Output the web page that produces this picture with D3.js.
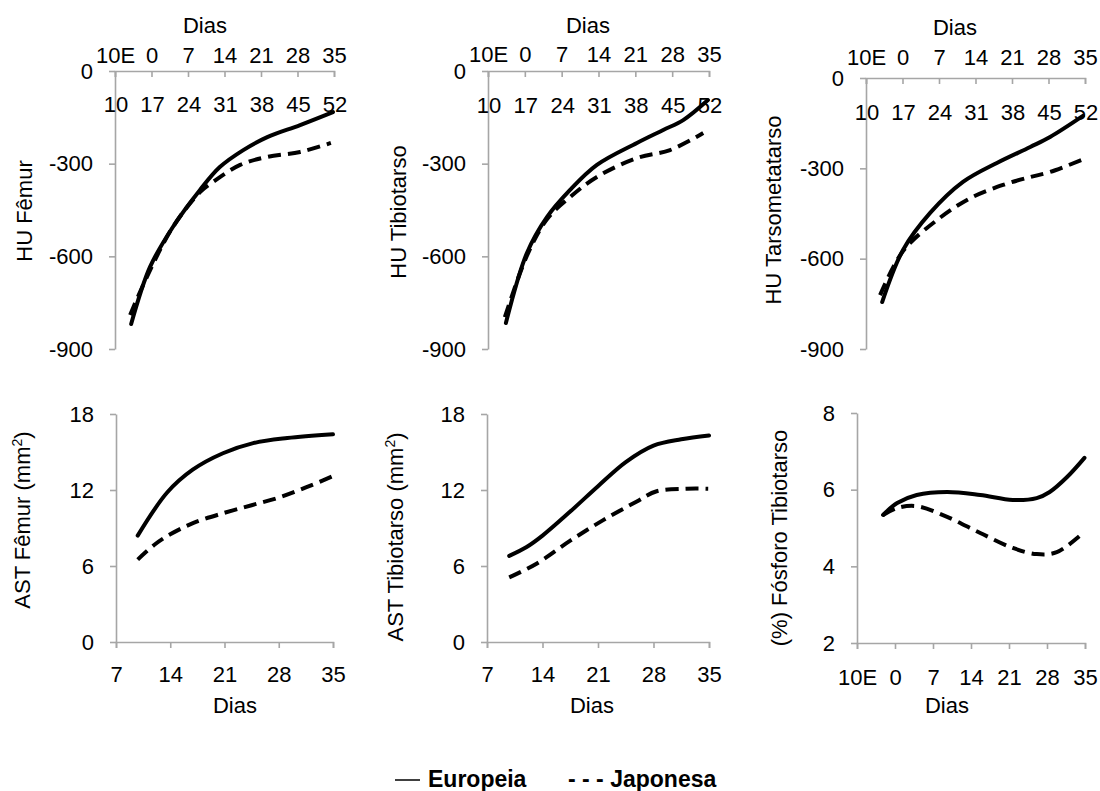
<!DOCTYPE html>
<html><head><meta charset="utf-8">
<script src="https://cdn.jsdelivr.net/npm/d3@7"></script>
<style>
body{margin:0;background:#fff}
text{font-family:"Liberation Sans",Arial,sans-serif;fill:#000}
</style>
</head><body>
<svg id="chart" width="1100" height="791"></svg>
<script>
// ---------- data ----------
const seriesNames = ["Europeia", "Japonesa"];
const hatchTicks = [-7, 0, 7, 14, 21, 28, 35];
const hatchLabels = ["10E", "0", "7", "14", "21", "28", "35"];
const ageLabels = ["10", "17", "24", "31", "38", "45", "52"];
const dayTicks = [7, 14, 21, 28, 35];
const dayLabels = ["7", "14", "21", "28", "35"];
const huTicks = [0, -300, -600, -900];
const astTicks = [0, 6, 12, 18];
const phosTicks = [2, 4, 6, 8];
const xTitle = "Dias";

const huFemurEU = [[-3.9,-819],[-0.3,-635],[4.1,-505],[9.3,-385],[13.1,-311],[17.6,-256],[22.2,-214],[28.5,-175],[34.8,-133]];
const huFemurJP = [[-4.1,-790],[-0.9,-667],[4.1,-505],[9.3,-392],[11.8,-359],[17,-304],[22.2,-278],[28.5,-262],[34.4,-233]];
const huTibioEU = [[-3.6,-816],[0.4,-589],[4.2,-473],[8.6,-385],[13.7,-304],[21.3,-233],[26.3,-191],[30.1,-159],[34.8,-94]];
const huTibioJP = [[-3.8,-797],[0.4,-598],[4.2,-480],[8.6,-408],[13.7,-343],[21.3,-282],[27.6,-256],[33.9,-201]];
const huTarsoEU = [[-3.9,-744],[0.1,-571],[5.3,-448],[11.6,-345],[18.1,-282],[24.5,-229],[28.3,-196],[34.6,-126]];
const huTarsoJP = [[-4.3,-721],[0.1,-575],[6.6,-472],[13,-399],[19.3,-355],[24.5,-329],[28.3,-312],[34.4,-272]];
const astFemurEU = [[9.8,8.4],[13.6,11.8],[16.9,13.6],[20.8,14.9],[24.7,15.7],[29.1,16.1],[35,16.4]];
const astFemurJP = [[9.8,6.5],[12,7.7],[14,8.5],[17,9.4],[21,10.2],[24.5,10.8],[28,11.4],[31.5,12.2],[35,13.1]];
const astTibioEU = [[9.8,6.8],[12,7.5],[14,8.4],[17.5,10.3],[21,12.3],[24.5,14.2],[28,15.5],[31.5,16.0],[35,16.3]];
const astTibioJP = [[9.8,5.1],[13.3,6.2],[17.5,8.0],[21.6,9.6],[25.9,11.1],[28.4,11.9],[32.2,12.1],[34.9,12.1]];
const phosEU = [[-2.2,5.34],[0.4,5.65],[4,5.86],[9.6,5.94],[15.7,5.86],[21.7,5.73],[26.1,5.78],[28.5,5.94],[31.7,6.33],[34.9,6.83]];
const phosJP = [[-2.2,5.34],[0.4,5.52],[4,5.57],[9.6,5.29],[15.7,4.87],[21.7,4.48],[26.1,4.32],[29.8,4.37],[34.9,4.9]];

// ---------- panel definitions ----------
const panels = [
  {yLabel:"HU Fêmur", sup:"", top:true, xDom:[-7,35], xTicks:hatchTicks, xLabels:hatchLabels, row2:ageLabels, yDom:[-900,0], yTicks:huTicks, eu:huFemurEU, jp:huFemurJP},
  {yLabel:"HU Tibiotarso", sup:"", top:true, xDom:[-7,35], xTicks:hatchTicks, xLabels:hatchLabels, row2:ageLabels, yDom:[-900,0], yTicks:huTicks, eu:huTibioEU, jp:huTibioJP},
  {yLabel:"HU Tarsometatarso", sup:"", top:true, xDom:[-7,35], xTicks:hatchTicks, xLabels:hatchLabels, row2:ageLabels, yDom:[-900,0], yTicks:huTicks, eu:huTarsoEU, jp:huTarsoJP},
  {yLabel:"AST Fêmur (mm", sup:"2", top:false, xDom:[7,35], xTicks:dayTicks, xLabels:dayLabels, row2:null, yDom:[0,18], yTicks:astTicks, eu:astFemurEU, jp:astFemurJP},
  {yLabel:"AST Tibiotarso (mm", sup:"2", top:false, xDom:[7,35], xTicks:dayTicks, xLabels:dayLabels, row2:null, yDom:[0,18], yTicks:astTicks, eu:astTibioEU, jp:astTibioJP},
  {yLabel:"(%) Fósforo Tibiotarso", sup:"", top:false, xDom:[-7,35], xTicks:hatchTicks, xLabels:hatchLabels, row2:null, yDom:[2,8], yTicks:phosTicks, eu:phosEU, jp:phosJP}
];

// ---------- layout (pixels) ----------
const layout = [
  {x0:115, x1:334, yTop:71, yBot:349, row1:63, row2:112, tX:205, tY:33, ylx:32, yly:211},
  {x0:488, x1:709, yTop:71, yBot:349, row1:62, row2:113, tX:588, tY:33, ylx:406, yly:212},
  {x0:866, x1:1085, yTop:78, yBot:349, row1:65, row2:120, tX:955, tY:35, ylx:781, yly:210},
  {x0:116, x1:333, yTop:414, yBot:642, row1:682, tX:235, tY:713, ylx:30, yly:520},
  {x0:487, x1:709, yTop:414, yBot:642, row1:682, tX:592, tY:713, ylx:403, yly:537},
  {x0:857, x1:1085, yTop:413, yBot:643, row1:685, tX:947, tY:713, ylx:787, yly:538}
];

const FS = 22;
const axisColor = "#a6a6a6";
const svg = d3.select("#chart");

panels.forEach((p, i) => {
  const L = layout[i];
  const x = d3.scaleLinear().domain(p.xDom).range([L.x0, L.x1]);
  const y = d3.scaleLinear().domain(p.yDom).range([L.yBot, L.yTop]);
  const g = svg.append("g");

  // y axis
  const ya = d3.axisLeft(y).tickValues(p.yTicks).tickSize(6).tickSizeOuter(0).tickPadding(16).tickFormat(d => String(d));
  const yg = g.append("g").attr("transform", `translate(${L.x0},0)`).call(ya);
  yg.selectAll("text").style("font-size", FS + "px").attr("fill", "#000");

  // x axis
  const xAxisY = p.top ? L.yTop : L.yBot;
  const xa = (p.top ? d3.axisTop(x) : d3.axisBottom(x))
    .tickValues(p.xTicks).tickSizeOuter(0)
    .tickFormat((d, k) => p.xLabels[k]);
  xa.tickSize(p.top ? -6 : 6);
  const xg = g.append("g").attr("transform", `translate(0,${xAxisY})`).call(xa);
  xg.selectAll("text").style("font-size", FS + "px").attr("fill", "#000")
    .attr("y", L.row1 - xAxisY).attr("dy", "0");

  [yg, xg].forEach(a => {
    a.select(".domain").attr("stroke", axisColor).attr("stroke-width", 1.6);
    a.selectAll(".tick line").attr("stroke", axisColor).attr("stroke-width", 1.6);
  });

  // second row of labels (age)
  if (p.row2) {
    g.selectAll(".row2").data(p.xTicks).join("text")
      .attr("x", (d) => x(d) + 1).attr("y", L.row2)
      .attr("text-anchor", "middle").style("font-size", FS + "px")
      .text((d, k) => p.row2[k]);
  }

  // x title
  g.append("text").attr("x", L.tX).attr("y", L.tY).attr("text-anchor", "middle")
    .style("font-size", FS + "px").text(xTitle);

  // y title
  const yt = g.append("text").attr("transform", `translate(${L.ylx},${L.yly}) rotate(-90)`)
    .attr("text-anchor", "middle").style("font-size", FS + "px");
  yt.append("tspan").text(p.yLabel);
  if (p.sup) {
    yt.append("tspan").attr("baseline-shift", "super").style("font-size", "14px").text(p.sup);
    yt.append("tspan").text(")");
  }

  // lines
  const line = d3.line().x(d => x(d[0])).y(d => y(d[1])).curve(d3.curveCatmullRom.alpha(0.5));
  g.append("path").datum(p.jp).attr("d", line).attr("fill", "none")
    .attr("stroke", "#000").attr("stroke-width", 4).attr("stroke-dasharray", "13,7");
  g.append("path").datum(p.eu).attr("d", line).attr("fill", "none")
    .attr("stroke", "#000").attr("stroke-width", 4).attr("stroke-linecap", "round");
});

// legend
const leg = svg.append("g");
leg.append("line").attr("x1", 395).attr("x2", 420).attr("y1", 780).attr("y2", 780)
  .attr("stroke", "#000").attr("stroke-width", 1.5);
leg.append("text").attr("x", 428).attr("y", 787).style("font-size", "23px").style("font-weight", "bold").text(seriesNames[0]);
leg.append("text").attr("x", 568).attr("y", 787).style("font-size", "23px").style("font-weight", "bold").text("- - - " + seriesNames[1]);
</script>
</body></html>
